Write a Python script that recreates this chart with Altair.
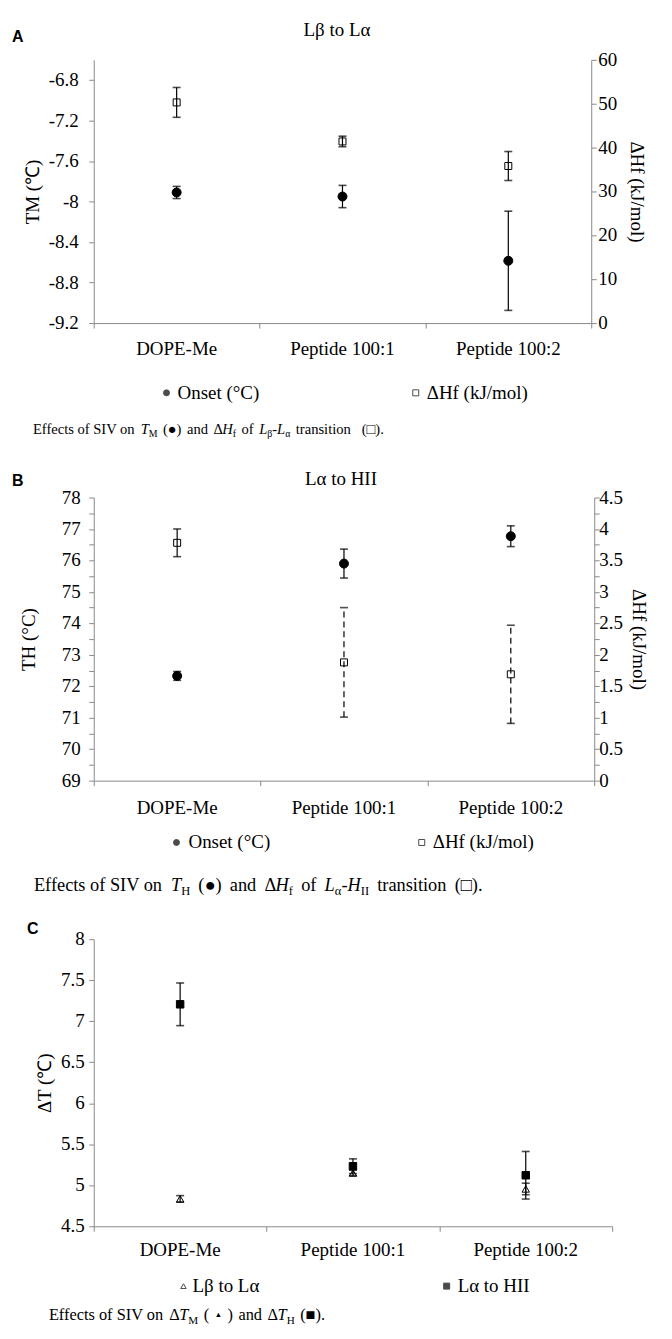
import altair as alt
import pandas as pd

# ---------------- data ----------------
categories = ["DOPE-Me", "Peptide 100:1", "Peptide 100:2"]

# Panel A  (Lβ to Lα)
a_series = ["Onset (°C)", "ΔHf (kJ/mol)"]
a_onset = [-7.91, -7.95, -8.585]
a_onset_err = [0.06, 0.11, 0.49]
a_dhf = [50.3, 41.4, 35.8]
a_dhf_err = [3.4, 1.2, 3.3]
a_left_domain = [-9.2, -6.6]
a_left_ticks = [-9.2, -8.8, -8.4, -8.0, -7.6, -7.2, -6.8]
a_left_labels = [-9.2, -8.8, -8.4, -8.0, -7.6, -7.2, -6.8]
a_right_domain = [0, 60]
a_right_ticks = [0, 10, 20, 30, 40, 50, 60]
a_right_labels = [0, 10, 20, 30, 40, 50, 60]

# Panel B  (Lα to HII)
b_series = ["Onset (°C)", "ΔHf (kJ/mol)"]
b_onset = [72.33, 75.90, 76.77]
b_onset_err = [0.14, 0.46, 0.33]
b_dhf = [3.78, 1.88, 1.69]
b_dhf_err = [0.22, 0.87, 0.78]
b_left_domain = [69, 78]
b_left_ticks = [69 + 0.5 * i for i in range(19)]
b_left_labels = [69, 70, 71, 72, 73, 74, 75, 76, 77, 78]
b_right_domain = [0, 4.5]
b_right_ticks = [0.25 * i for i in range(19)]
b_right_labels = [0, 0.5, 1, 1.5, 2, 2.5, 3, 3.5, 4, 4.5]

# Panel C  (ΔT)
c_series = ["Lβ to Lα", "Lα to HII"]
c_lb_la = [4.834, 5.15, 4.955]
c_lb_la_err = [0.04, 0.035, 0.07]
c_la_hii = [7.206, 5.232, 5.122]
c_la_hii_err = [0.26, 0.09, 0.29]
c_domain = [4.5, 8]
c_ticks = [4.5, 5.0, 5.5, 6.0, 6.5, 7.0, 7.5, 8.0]
c_labels = [4.5, 5, 5.5, 6, 6.5, 7, 7.5, 8]

titles = {"A": "Lβ to Lα", "B": "Lα to HII"}

# ---------------- helpers ----------------
FONT = "Liberation Serif"
GRAY = "#8a8a8a"
FS = 19

W_REG = {' ': 250, '!': 333, '(': 333, ')': 333, '-': 333, '.': 250, '/': 278, ':': 278,
         'A': 722, 'B': 667, 'C': 667, 'D': 722, 'E': 611, 'F': 556, 'G': 722, 'H': 722, 'I': 333,
         'J': 389, 'K': 722, 'L': 611, 'M': 889, 'N': 722, 'O': 722, 'P': 556, 'Q': 722, 'R': 667,
         'S': 556, 'T': 611, 'U': 722, 'V': 722, 'W': 944, 'X': 722, 'Y': 722, 'Z': 611,
         'a': 444, 'b': 500, 'c': 444, 'd': 500, 'e': 444, 'f': 333, 'g': 500, 'h': 500, 'i': 278,
         'j': 278, 'k': 500, 'l': 278, 'm': 778, 'n': 500, 'o': 500, 'p': 500, 'q': 500, 'r': 333,
         's': 389, 't': 278, 'u': 500, 'v': 500, 'w': 722, 'x': 500, 'y': 500, 'z': 444,
         'Δ': 612, 'α': 530, 'β': 500, '●': 604, '□': 604, '■': 604, '•': 350, '▲': 990}
W_IT = {'T': 556, 'H': 722, 'L': 556, 'M': 833}


def text_w(s, size, italic=False):
    tot = 0
    for ch in s:
        if italic and ch in W_IT:
            tot += W_IT[ch]
        else:
            tot += W_REG.get(ch, 500)
    return tot * size / 1000.0


def one():
    return alt.Data(values=[{}])


def txt(text, x, y, size=FS, style="normal", weight="normal", font=FONT,
        align="left", baseline="alphabetic"):
    return alt.Chart(one()).mark_text(
        text=text, font=font, fontSize=size, fontStyle=style, fontWeight=weight,
        align=align, baseline=baseline, color="black"
    ).encode(x=alt.value(x), y=alt.value(y))


def seg_style(kind, s):
    if kind == "s":
        return s * 0.68, s * 0.22, "normal"
    if kind == "i":
        return s, 0.0, "italic"
    if kind == "tiny":
        return s * 0.45, -s * 0.2, "normal"
    return s, 0.0, "normal"


def caption(segs, origin_x, x0, x_end, y0, s):
    """Pieces flow left to right; word gaps (kind 'sp') share the room left to x_end."""
    total, nsp = 0.0, 0
    for t, kind in segs:
        if kind == "sp":
            nsp += t
        else:
            size = seg_style(kind, s)[0]
            total += text_w(t, size, kind == "i")
    sp = (x_end - x0 - total) / nsp
    out = []
    x = x0 - origin_x
    for t, kind in segs:
        if kind == "sp":
            x += t * sp
            continue
        size, dy, st = seg_style(kind, s)
        out.append(txt(t, x, y0 + dy, size=size, style=st))
        x += text_w(t, size, kind == "i")
    return out


def bounds_rule(left, right, top, bottom):
    v = alt.Chart(one()).mark_rule(opacity=0, strokeWidth=0.5).encode(
        x=alt.value(left), y=alt.value(top), y2=alt.value(bottom))
    h = alt.Chart(one()).mark_rule(opacity=0, strokeWidth=0.5).encode(
        x=alt.value(left), x2=alt.value(right), y=alt.value(top))
    return [v, h]


def legend_items(items, y):
    """items: (shape, fill, size, symbol_x, label, label_x)"""
    out = []
    for shape, fill, size, sx, label, lx in items:
        out.append(alt.Chart(one()).mark_point(shape=shape, size=size, filled=False, strokeWidth=1).encode(
            x=alt.value(sx), y=alt.value(y), fill=alt.value(fill), stroke=alt.value("black")))
        out.append(txt(label, lx, y, baseline="middle"))
    return out


def long_df(names, v1, e1, v2, e2):
    rows = []
    for c, v, e in zip(categories, v1, e1):
        rows.append({"cat": c, "series": names[0], "v": v, "e": e})
    for c, v, e in zip(categories, v2, e2):
        rows.append({"cat": c, "series": names[1], "v": v, "e": e})
    return pd.DataFrame(rows)


xscale = alt.Scale(type="band", domain=categories, paddingInner=0, paddingOuter=0)
xaxis = alt.Axis(title=None, labels=False, tickBand="extent", tickSize=5,
                 domainColor=GRAY, tickColor=GRAY)


def X():
    return alt.X("cat:N", scale=xscale, axis=xaxis)


def yaxis(orient, values, title, title_pad):
    return alt.Axis(orient=orient, values=values, labels=False, title=title,
                    titlePadding=title_pad, tickSize=5, domainColor=GRAY, tickColor=GRAY,
                    titleFont=FONT, titleFontSize=FS, titleFontWeight="normal",
                    titleColor="black", grid=False)


def tick_labels(values, yscale, axis, x, align):
    df = pd.DataFrame({"t": values})
    return alt.Chart(df).transform_calculate(lab="'' + datum.t").mark_text(
        font=FONT, fontSize=FS, align=align, baseline="middle", color="black"
    ).encode(x=alt.value(x), y=alt.Y("t:Q", scale=yscale, axis=axis), text="lab:N")


def series_group(df, series_name, yscale, axis, shape, fill, size, dash=None):
    base = alt.Chart(df).transform_filter(alt.datum.series == series_name).transform_calculate(
        lo="datum.v - datum.e", hi="datum.v + datum.e")
    pts = base.mark_point(shape=shape, filled=False, strokeWidth=1, size=size, opacity=1).encode(
        x=X(), y=alt.Y("v:Q", scale=yscale, axis=axis),
        fill=alt.value(fill), stroke=alt.value("black"))
    rule = base.mark_rule(color="black", strokeWidth=1.2).encode(
        x=X(), y=alt.Y("lo:Q", scale=yscale, axis=axis), y2="hi:Q")
    if dash is not None:
        rule = rule.encode(strokeDash=dash)
    cap_lo = base.mark_tick(color="black", thickness=1.6, size=8).encode(
        x=X(), y=alt.Y("lo:Q", scale=yscale, axis=axis))
    cap_hi = base.mark_tick(color="black", thickness=1.6, size=8).encode(
        x=X(), y=alt.Y("hi:Q", scale=yscale, axis=axis))
    return [pts, rule, cap_lo, cap_hi]


def xlabels(ypos):
    df = pd.DataFrame({"cat": categories})
    return alt.Chart(df).mark_text(font=FONT, fontSize=FS, baseline="middle", color="black").encode(
        x=X(), y=alt.value(ypos), text="cat:N")


RIGHT = 650

# ---------------- Panel A ----------------
WA, HA = 499, 264
OXA = 94
dfA = long_df(a_series, a_onset, a_onset_err, a_dhf, a_dhf_err)
ysA1 = alt.Scale(domain=a_left_domain, zero=False, nice=False)
ysA2 = alt.Scale(domain=a_right_domain, nice=False)
axA1 = yaxis("left", a_left_ticks, "TM (℃)", 46)
axA2 = yaxis("right", a_right_ticks, "ΔHf (kJ/mol)", 30)

grpA1 = alt.layer(*series_group(dfA, a_series[0], ysA1, axA1, "circle", "black", 81),
                  tick_labels(a_left_labels, ysA1, axA1, -15, "right"), xlabels(HA + 26))
grpA2 = alt.layer(*series_group(dfA, a_series[1], ysA2, axA2, "square", "white", 49),
                  tick_labels(a_right_labels, ysA2, axA2, WA + 7, "left"))

capA = caption([("Effects of SIV on", "r"), (1, "sp"), ("T", "i"), ("M", "s"), (1, "sp"),
                ("(●)", "r"), (1, "sp"), ("and", "r"), (1, "sp"), ("Δ", "r"), ("H", "i"),
                ("f", "s"), (1, "sp"), ("of", "r"), (1, "sp"), ("L", "i"), ("β", "s"),
                ("-", "r"), ("L", "i"), ("α", "s"), (1, "sp"), ("transition", "r"), (2, "sp"),
                ("(□).", "r")], OXA, 33, 385, 375, 14.6)

legA = legend_items([("circle", "black", 36, 167 - OXA, a_series[0], 178 - OXA),
                     ("square", "white", 36, 417 - OXA, a_series[1], 428 - OXA)], 392 - 58)

panelA = alt.layer(
    alt.layer(grpA1, grpA2).resolve_scale(y="independent"),
    txt(titles["A"], 244, -30, align="center", baseline="middle"),
    txt("A", -82, -23, size=16, weight="bold", font="Liberation Sans", baseline="middle"),
    *legA,
    *bounds_rule(-86, RIGHT - OXA, -50, 397),
    *capA
).properties(width=WA, height=HA)

# ---------------- Panel B ----------------
WB, HB = 502, 284
OXB = 93
dfB = long_df(b_series, b_onset, b_onset_err, b_dhf, b_dhf_err)
ysB1 = alt.Scale(domain=b_left_domain, zero=False, nice=False)
ysB2 = alt.Scale(domain=b_right_domain, nice=False)
axB1 = yaxis("left", b_left_ticks, "TH (°C)", 50)
axB2 = yaxis("right", b_right_ticks, "ΔHf (kJ/mol)", 29)

grpB1 = alt.layer(*series_group(dfB, b_series[0], ysB1, axB1, "circle", "black", 81),
                  tick_labels(b_left_labels, ysB1, axB1, -13, "right"), xlabels(HB + 27))
grpB2 = alt.layer(*series_group(dfB, b_series[1], ysB2, axB2, "square", "white", 49,
                                dash=alt.condition(alt.datum.cat == categories[0],
                                                   alt.value([1, 0]), alt.value([6, 4]))),
                  tick_labels(b_right_labels, ysB2, axB2, WB + 5, "left"))

capB = caption([("Effects of SIV on", "r"), (1, "sp"), ("T", "i"), ("H", "s"), (1, "sp"),
                ("(●)", "r"), (1, "sp"), ("and", "r"), (1, "sp"), ("Δ", "r"), ("H", "i"),
                ("f", "s"), (1, "sp"), ("of", "r"), (1, "sp"), ("L", "i"), ("α", "s"),
                ("-", "r"), ("H", "i"), ("II", "s"), (1, "sp"), ("transition", "r"), (1, "sp"),
                ("(□).", "r")], OXB, 33, 483, 395, 18.4)

legB = legend_items([("circle", "black", 36, 176 - OXB, b_series[0], 188 - OXB),
                     ("square", "white", 36, 422 - OXB, b_series[1], 433 - OXB)], 843 - 497)

panelB = alt.layer(
    alt.layer(grpB1, grpB2).resolve_scale(y="independent"),
    txt(titles["B"], 248, -19, align="center", baseline="middle"),
    txt("B", -82, -17, size=16, weight="bold", font="Liberation Sans", baseline="middle"),
    *legB,
    *bounds_rule(-85, RIGHT - OXB, -42, 415),
    *capB
).properties(width=WB, height=HB)

# ---------------- Panel C ----------------
WC, HC = 520, 288
OXC = 78
dfC = long_df(c_series, c_lb_la, c_lb_la_err, c_la_hii, c_la_hii_err)
ysC = alt.Scale(domain=c_domain, zero=False, nice=False)
axC = yaxis("left", c_ticks, "ΔT (℃)", 34)

grpC = alt.layer(*series_group(dfC, c_series[0], ysC, axC, "triangle-up", "white", 55),
                 *series_group(dfC, c_series[1], ysC, axC, "square", "black", 56),
                 tick_labels(c_labels, ysC, axC, -9, "right"), xlabels(HC + 24))

capC = caption([("Effects of SIV on", "r"), (1, "sp"), ("Δ", "r"), ("T", "i"), ("M", "s"),
                (1, "sp"), ("(", "r"), (1, "sp"), ("▲", "tiny"), (1, "sp"), (")", "r"),
                (1, "sp"), ("and", "r"), (1, "sp"), ("Δ", "r"), ("T", "i"), ("H", "s"),
                (1, "sp"), ("(■).", "r")], OXC, 33, 310, 382, 16.4)

legC = legend_items([("triangle-up", "white", 30, 168 - OXC, c_series[0], 177 - OXC),
                     ("square", "black", 36, 432 - OXC, c_series[1], 443 - OXC)], 1288 - 940)

panelC = alt.layer(
    grpC,
    txt("C", -67, -10, size=16, weight="bold", font="Liberation Sans", baseline="middle"),
    *legC,
    *bounds_rule(-70, RIGHT - OXC, -28, 387),
    *capC
).properties(width=WC, height=HC)

chart = alt.vconcat(panelA, panelB, panelC, spacing=0).resolve_scale(
    x="independent"
).properties(
    padding=0
).configure_view(stroke=None)

chart.save("out.html", embed_options={"renderer": "svg", "actions": False})
